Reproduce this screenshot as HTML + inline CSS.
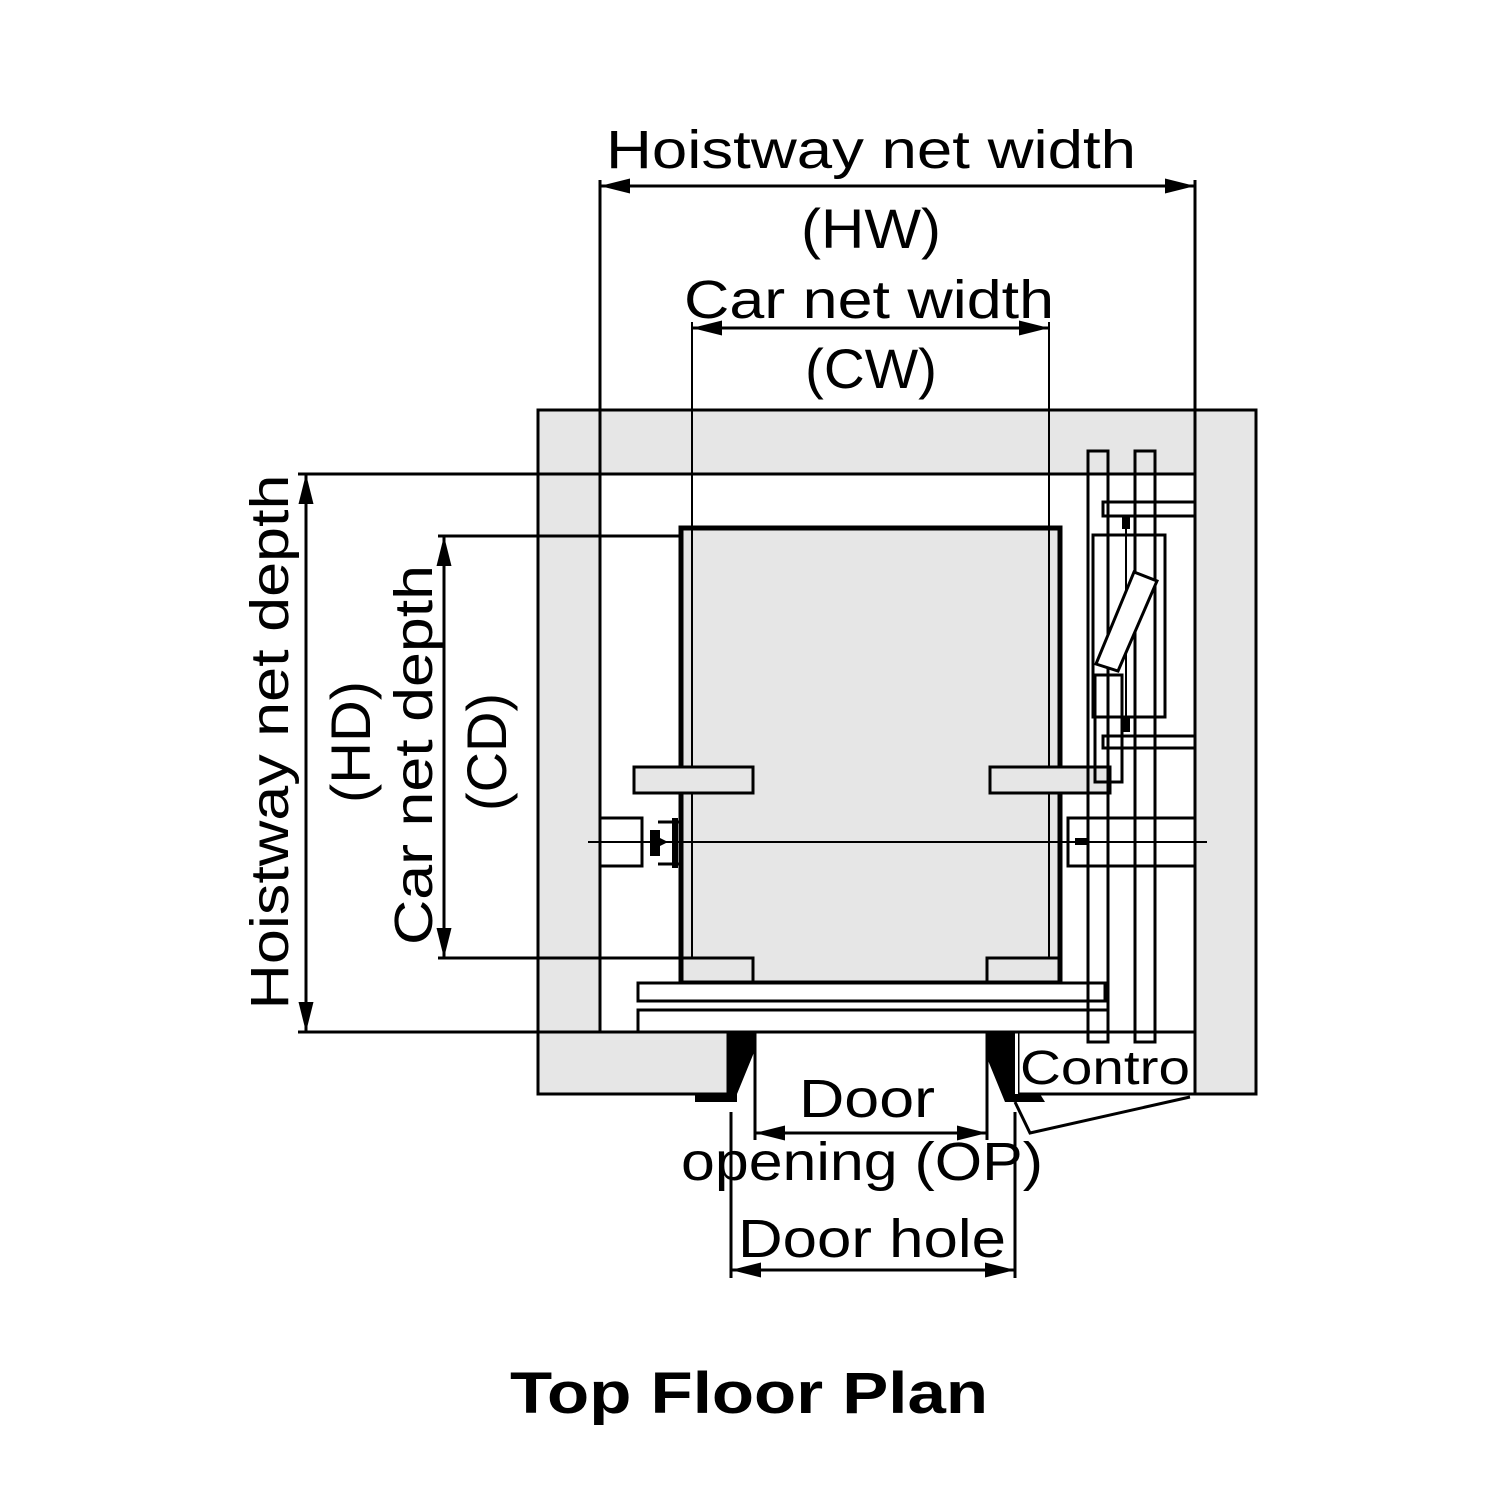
<!DOCTYPE html>
<html><head><meta charset="utf-8"><style>
html,body{margin:0;padding:0;background:#fff;}
svg{display:block;}
text{font-family:"Liberation Sans",sans-serif;fill:#000;}
</style></head><body>
<svg width="1500" height="1500" viewBox="0 0 1500 1500" xmlns="http://www.w3.org/2000/svg">
<defs>
<marker id="a" viewBox="0 0 20 10" refX="20" refY="5" markerWidth="30" markerHeight="15" markerUnits="userSpaceOnUse" orient="auto-start-reverse"><path d="M0,0 L20,5 L0,10 Z" fill="#000"/></marker>
</defs>
<g stroke="#000" stroke-width="3" fill="none">
<rect x="538" y="410" width="718" height="684" fill="#e6e6e6"/>
<rect x="600" y="474" width="595" height="558" fill="#fff"/>
<rect x="1018" y="1032" width="177" height="62" fill="#fff"/>
<rect x="728" y="1032" width="290" height="70" fill="#fff" stroke="none"/>
<line x1="728" y1="1032" x2="728" y2="1094"/>
<rect x="681" y="528" width="379" height="455" fill="#e6e6e6" stroke-width="5"/>
<line x1="692" y1="322" x2="692" y2="958" stroke-width="2"/>
<line x1="1049" y1="322" x2="1049" y2="958" stroke-width="2"/>
<line x1="600" y1="180" x2="600" y2="1032"/>
<line x1="1195" y1="180" x2="1195" y2="1094"/>
<line x1="298" y1="474" x2="1195" y2="474"/>
<line x1="298" y1="1032" x2="1195" y2="1032"/>
<line x1="438" y1="536" x2="681" y2="536"/>
<line x1="438" y1="958" x2="681" y2="958"/>
<rect x="681" y="958" width="72" height="25"/>
<rect x="987" y="958" width="73" height="25"/>
<rect x="634" y="767" width="119" height="26" fill="#e6e6e6"/>
<rect x="990" y="767" width="120" height="26" fill="#e6e6e6"/>
<rect x="638" y="983" width="467" height="18" fill="#fff"/>
<rect x="638" y="1010" width="470" height="22" fill="#fff"/>
<rect x="1088" y="451" width="20" height="591"/>
<rect x="1135" y="451" width="20" height="591"/>
<rect x="1103" y="502" width="92" height="14"/>
<rect x="1103" y="736" width="92" height="12"/>
<rect x="1093" y="535" width="72" height="182"/>
<rect x="1095" y="675" width="27" height="107"/>
<line x1="1126" y1="520" x2="1126" y2="730" stroke-width="2"/>
<polygon points="1134,572 1157,581 1118,671 1096,664" fill="#fff"/>
<rect x="1068" y="818" width="127" height="48"/>
<line x1="588" y1="842" x2="1207" y2="842" stroke-width="2"/>
<rect x="600" y="818" width="42" height="48"/>
<line x1="658" y1="822" x2="680" y2="822"/>
<line x1="658" y1="864" x2="680" y2="864"/>
<line x1="600" y1="186" x2="1195" y2="186" marker-start="url(#a)" marker-end="url(#a)"/>
<line x1="692" y1="328" x2="1049" y2="328" marker-start="url(#a)" marker-end="url(#a)"/>
<line x1="306" y1="474" x2="306" y2="1032" marker-start="url(#a)" marker-end="url(#a)"/>
<line x1="444" y1="536" x2="444" y2="958" marker-start="url(#a)" marker-end="url(#a)"/>
<line x1="755" y1="1133" x2="987" y2="1133" marker-start="url(#a)" marker-end="url(#a)"/>
<line x1="731" y1="1270" x2="1015" y2="1270" marker-start="url(#a)" marker-end="url(#a)"/>
<line x1="755" y1="1032" x2="755" y2="1140"/>
<line x1="987" y1="1032" x2="987" y2="1140"/>
<line x1="731" y1="1112" x2="731" y2="1278"/>
<line x1="1015" y1="1112" x2="1015" y2="1278"/>
<polyline points="1190,1097 1030,1133 1015,1102"/>
</g>
<path d="M728,1032 L755,1032 L755,1050 L737,1094 L737,1102 L695,1102 L695,1094 L728,1094 Z" fill="#000"/>
<path d="M987,1032 L1015,1032 L1015,1094 L1040,1094 L1045,1102 L1005,1102 L987,1058 Z" fill="#000"/>
<path d="M650,830 L660,830 L660,838 L668,842 L660,846 L660,856 L650,856 Z" fill="#000"/>
<rect x="672" y="818" width="6" height="50" fill="#000"/>
<rect x="1075" y="838" width="14" height="7" fill="#000"/>
<rect x="1122" y="515" width="8" height="14" fill="#000"/>
<rect x="1122" y="718" width="8" height="14" fill="#000"/>
<text x="871" y="168" font-size="54" text-anchor="middle" textLength="530" lengthAdjust="spacingAndGlyphs">Hoistway net width</text>
<text x="871" y="248" font-size="56" text-anchor="middle" textLength="140" lengthAdjust="spacingAndGlyphs">(HW)</text>
<text x="869" y="318" font-size="54" text-anchor="middle" textLength="370" lengthAdjust="spacingAndGlyphs">Car net width</text>
<text x="871" y="388" font-size="56" text-anchor="middle" textLength="132" lengthAdjust="spacingAndGlyphs">(CW)</text>
<text transform="translate(288,742) rotate(-90)" font-size="54" text-anchor="middle" textLength="535" lengthAdjust="spacingAndGlyphs">Hoistway net depth</text>
<text transform="translate(370,742) rotate(-90)" font-size="56" text-anchor="middle" textLength="122" lengthAdjust="spacingAndGlyphs">(HD)</text>
<text transform="translate(432,755) rotate(-90)" font-size="54" text-anchor="middle" textLength="380" lengthAdjust="spacingAndGlyphs">Car net depth</text>
<text transform="translate(506,752) rotate(-90)" font-size="56" text-anchor="middle" textLength="118" lengthAdjust="spacingAndGlyphs">(CD)</text>
<text x="867" y="1117" font-size="54" text-anchor="middle" textLength="136" lengthAdjust="spacingAndGlyphs">Door</text>
<text x="862" y="1180" font-size="54" text-anchor="middle" textLength="362" lengthAdjust="spacingAndGlyphs">opening (OP)</text>
<text x="872" y="1257" font-size="54" text-anchor="middle" textLength="268" lengthAdjust="spacingAndGlyphs">Door hole</text>
<text x="1105" y="1084" font-size="48" text-anchor="middle" textLength="170" lengthAdjust="spacingAndGlyphs">Contro</text>
<text x="749" y="1413" font-size="58" font-weight="bold" text-anchor="middle" textLength="478" lengthAdjust="spacingAndGlyphs">Top Floor Plan</text>
</svg>
</body></html>
